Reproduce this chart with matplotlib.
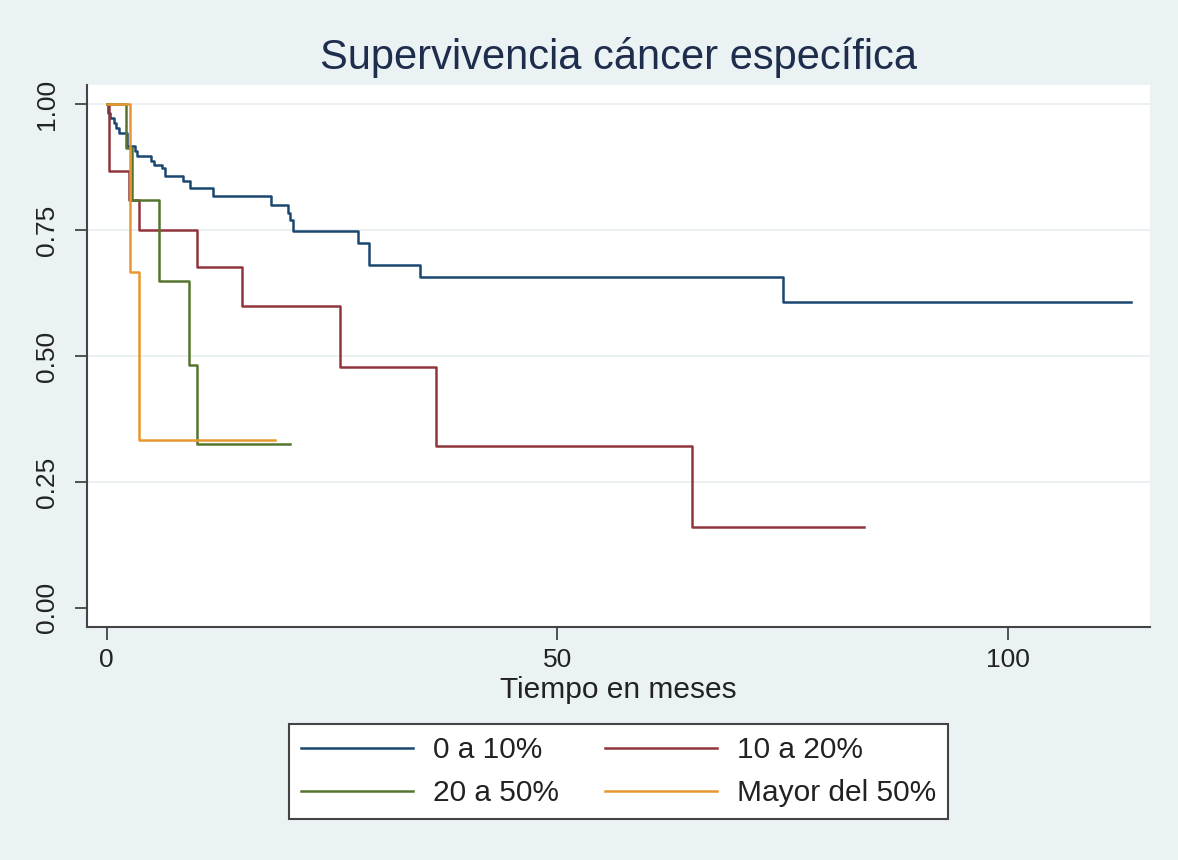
import matplotlib
matplotlib.use("Agg")
import matplotlib.pyplot as plt

plt.rcParams['font.family'] = ['Liberation Sans', 'DejaVu Sans']

title = "Supervivencia cáncer específica"
xlabel = "Tiempo en meses"
labels = ["0 a 10%", "10 a 20%", "20 a 50%", "Mayor del 50%"]
colors = ["#1a476f", "#90353b", "#55752f", "#e8962e"]

t_0_10 = [0, 0.2, 0.44, 0.81, 1.07, 1.37, 2.3, 3.14, 3.4, 4.9, 5.25, 6.1, 6.5, 8.5,
          9.3, 11.8, 18.2, 20.1, 20.4, 20.7, 27.9, 29.1, 34.8, 75.0, 113.7]
s_0_10 = [1.0, 0.984, 0.973, 0.963, 0.953, 0.944, 0.917, 0.907, 0.897, 0.887, 0.880,
          0.874, 0.857, 0.847, 0.834, 0.819, 0.801, 0.784, 0.771, 0.748, 0.724, 0.681,
          0.658, 0.607, 0.607]

t_10_20 = [0, 0.26, 2.5, 3.6, 10.05, 15.0, 25.9, 36.6, 65.0, 84.0]
s_10_20 = [1.0, 0.868, 0.811, 0.751, 0.677, 0.600, 0.478, 0.321, 0.161, 0.161]

t_20_50 = [0, 2.2, 2.85, 5.8, 9.2, 10.0, 20.4]
s_20_50 = [1.0, 0.914, 0.811, 0.649, 0.483, 0.325, 0.325]

t_50 = [0, 2.55, 3.6, 18.7]
s_50 = [1.0, 0.668, 0.333, 0.333]

xticks = [0, 50, 100]
yticks = [0.00, 0.25, 0.50, 0.75, 1.00]
ytick_labels = ["0.00", "0.25", "0.50", "0.75", "1.00"]

bg = "#eaf2f3"
fig = plt.figure(figsize=(11.78, 8.6), dpi=100, facecolor=bg)
ax = fig.add_axes([0.0739, 0.2709, 0.9023, 0.6303])
ax.set_facecolor("white")

for yv in yticks[1:]:
    ax.axhline(yv, color="#e8eef0", lw=1.2, zorder=0)

series = [(t_0_10, s_0_10), (t_10_20, s_10_20), (t_20_50, s_20_50), (t_50, s_50)]
lines = []
for (t, s), lab, c in zip(series, labels, colors):
    ln, = ax.step(t, s, where="post", color=c, lw=1.8, label=lab)
    lines.append(ln)

ax.set_xlim(-2.16, 115.75)
ax.set_ylim(-0.0384, 1.0388)
ax.set_xticks(xticks)
ax.set_yticks(yticks)
ax.set_yticklabels(ytick_labels, rotation=90, va="center")
ax.tick_params(axis="both", direction="out", length=9, width=1.3, color="#444444",
               labelsize=19, labelcolor="#222222")
ax.tick_params(axis="y", pad=11)
ax.tick_params(axis="x", pad=6)
for sp in ["top", "right"]:
    ax.spines[sp].set_visible(False)
for sp in ["left", "bottom"]:
    ax.spines[sp].set_color("#444444")
    ax.spines[sp].set_linewidth(1.5)

ax.set_xlabel(xlabel, fontsize=21.5, color="#222222", labelpad=3)
fig.text(618.5 / 1178, 1 - 57 / 860, title, ha="center", va="center",
         fontsize=30, color="#1f2d4d")

order = [0, 2, 1, 3]
leg = ax.legend([lines[i] for i in order], [labels[i] for i in order],
                loc="center", bbox_to_anchor=(618.5 / 1178, 1 - 771.5 / 860),
                bbox_transform=fig.transFigure, ncol=2, fontsize=21.5,
                handlelength=3.75, handletextpad=0.67, columnspacing=1.55,
                frameon=True, fancybox=False, borderpad=0.4, labelspacing=0.5,
                borderaxespad=0, edgecolor="#444444")
leg.get_frame().set_linewidth(1.5)
leg.get_frame().set_facecolor("white")
leg.get_frame().set_alpha(1.0)
for txt in leg.get_texts():
    txt.set_color("#222222")

fig.savefig("out.png", dpi=100, facecolor=bg)
